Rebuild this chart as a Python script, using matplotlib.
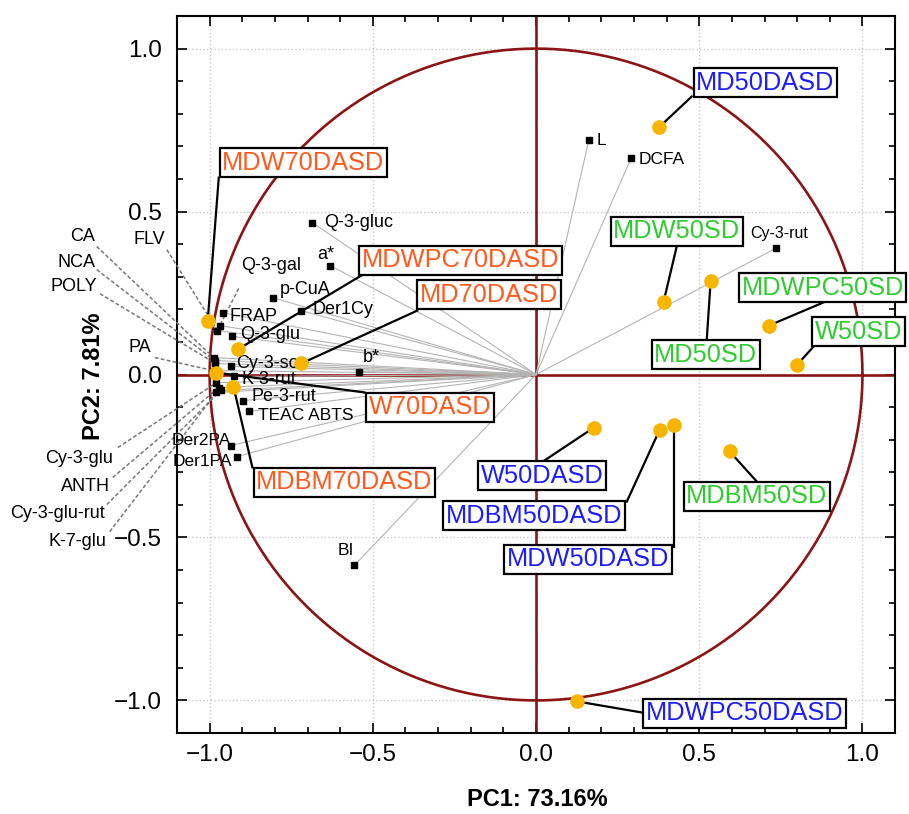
import matplotlib
matplotlib.use("Agg")
import matplotlib.pyplot as plt
import numpy as np
from matplotlib.ticker import MultipleLocator

plt.rcParams['font.family'] = ['Liberation Sans', 'DejaVu Sans']

# variable loadings (PC1, PC2)
var_names = ['FRAP', 'Q-3-gal', 'FLV', 'Q-3-glu', 'CA', 'NCA', 'POLY', 'PA',
             'Cy-3-so', 'K-3-rut', 'Cy-3-glu', 'ANTH', 'Cy-3-glu-rut', 'K-7-glu',
             'Pe-3-rut', 'TEAC ABTS', 'Der2PA', 'Der1PA', 'b*', 'BI', 'Q-3-gluc',
             'a*', 'p-CuA', 'Der1Cy', 'L', 'DCFA', 'Cy-3-rut']
var_pc1 = [-0.960, -0.969, -0.976, -0.930, -0.988, -0.985, -0.982, -0.988,
           -0.933, -0.924, -0.979, -0.972, -0.966, -0.979,
           -0.899, -0.878, -0.936, -0.917, -0.541, -0.557, -0.685,
           -0.630, -0.807, -0.719, 0.162, 0.291, 0.734]
var_pc2 = [0.190, 0.150, 0.135, 0.117, 0.052, 0.043, 0.034, 0.012,
           0.025, -0.006, -0.025, -0.040, -0.049, -0.055,
           -0.080, -0.113, -0.218, -0.252, 0.009, -0.586, 0.466,
           0.334, 0.236, 0.196, 0.721, 0.663, 0.387]

# sample scores (PC1, PC2)
obs_names = ['MDW70DASD', 'MDWPC70DASD', 'MD70DASD', 'W70DASD', 'MDBM70DASD',
             'MD50DASD', 'MDW50SD', 'MD50SD', 'MDWPC50SD', 'W50SD',
             'W50DASD', 'MDBM50DASD', 'MDW50DASD', 'MDBM50SD', 'MDWPC50DASD']
obs_pc1 = [-1.006, -0.914, -0.719, -0.980, -0.927,
           0.376, 0.391, 0.535, 0.713, 0.798,
           0.177, 0.379, 0.422, 0.593, 0.125]
obs_pc2 = [0.163, 0.077, 0.034, 0.006, -0.037,
           0.758, 0.224, 0.288, 0.150, 0.028,
           -0.163, -0.169, -0.156, -0.236, -1.003]
obs_group = ['70DASD'] * 5 + ['50DASD', '50SD', '50SD', '50SD', '50SD',
                              '50DASD', '50DASD', '50DASD', '50SD', '50DASD']

group_colors = {'70DASD': '#ff5a1e', '50DASD': '#1c1cff', '50SD': '#2ecc2e'}

# label placement: text position, alignment, font size
var_label_pos = {
    'Q-3-gluc': (-0.648, 0.466, 'left', 13), 'a*': (-0.645, 0.368, 'center', 13),
    'p-CuA': (-0.786, 0.261, 'left', 13), 'Der1Cy': (-0.685, 0.199, 'left', 13),
    'FRAP': (-0.939, 0.178, 'left', 13), 'Q-3-glu': (-0.908, 0.123, 'left', 13),
    'Cy-3-so': (-0.920, 0.034, 'left', 13), 'b*': (-0.505, 0.052, 'center', 13),
    'K-3-rut': (-0.902, -0.015, 'left', 13), 'Pe-3-rut': (-0.872, -0.067, 'left', 13),
    'TEAC ABTS': (-0.853, -0.126, 'left', 12.5), 'Der2PA': (-0.936, -0.202, 'right', 12.5),
    'Der1PA': (-0.930, -0.267, 'right', 12.5), 'BI': (-0.584, -0.540, 'center', 12.5),
    'L': (0.187, 0.718, 'left', 12.5), 'DCFA': (0.315, 0.660, 'left', 12.5),
    'Cy-3-rut': (0.746, 0.433, 'center', 11.5),
}
# labels joined to their point with a dashed leader: text pos, leader start
leader_label_pos = {
    'FLV': ((-1.135, 0.414), (-1.131, 0.383), 'right'),
    'CA': ((-1.352, 0.423), (-1.346, 0.393), 'right'),
    'NCA': ((-1.349, 0.345), (-1.346, 0.322), 'right'),
    'POLY': ((-1.346, 0.270), (-1.336, 0.248), 'right'),
    'Q-3-gal': ((-0.902, 0.334), (-0.911, 0.264), 'left'),
    'PA': ((-1.180, 0.083), (-1.168, 0.052), 'right'),
    'Cy-3-glu': ((-1.297, -0.258), (-1.281, -0.224), 'right'),
    'ANTH': ((-1.306, -0.344), (-1.297, -0.316), 'right'),
    'Cy-3-glu-rut': ((-1.321, -0.426), (-1.315, -0.399), 'right'),
    'K-7-glu': ((-1.315, -0.512), (-1.306, -0.482), 'right'),
}
# boxed sample labels: box centre, connector end
obs_label_pos = {
    'MDW70DASD': ((-0.713, 0.650), (-0.972, 0.604)),
    'MDWPC70DASD': ((-0.232, 0.350), (-0.535, 0.304)),
    'MD70DASD': ((-0.144, 0.245), (-0.364, 0.196)),
    'W70DASD': ((-0.324, -0.101), (-0.526, -0.055)),
    'MDBM70DASD': ((-0.587, -0.331), (-0.869, -0.285)),
    'MD50DASD': ((0.703, 0.896), (0.477, 0.853)),
    'MDW50SD': ((0.431, 0.439), (0.431, 0.393)),
    'MD50SD': ((0.520, 0.061), (0.523, 0.107)),
    'MDWPC50SD': ((0.878, 0.267), (0.887, 0.224)),
    'W50SD': ((0.988, 0.132), (0.856, 0.092)),
    'W50DASD': ((0.018, -0.310), (0.021, -0.267)),
    'MDBM50DASD': ((-0.006, -0.433), (0.278, -0.390)),
    'MDW50DASD': ((0.159, -0.567), (0.422, -0.528)),
    'MDBM50SD': ((0.676, -0.374), (0.676, -0.328)),
    'MDWPC50DASD': ((0.639, -1.040), (0.324, -1.037)),
}

fig = plt.figure(figsize=(9.09, 8.14), dpi=100)
ax = fig.add_axes([0.1947, 0.0995, 0.79, 0.8808])
ax.set_xlim(-1.1, 1.1)
ax.set_ylim(-1.1, 1.1)

ax.xaxis.set_major_locator(MultipleLocator(0.5))
ax.yaxis.set_major_locator(MultipleLocator(0.5))
ax.xaxis.set_minor_locator(MultipleLocator(0.1))
ax.yaxis.set_minor_locator(MultipleLocator(0.1))
ax.tick_params(which='both', direction='in', top=True, right=True,
               width=1.2, labelsize=17.5, colors='black')
ax.tick_params(which='major', length=7)
ax.tick_params(which='minor', length=4)
ax.tick_params(axis='y', pad=11)
ax.tick_params(axis='x', pad=8)
ax.set_xticks([-1.0, -0.5, 0.0, 0.5, 1.0])
ax.set_xticklabels(['\u22121.0', '\u22120.5', '0.0', '0.5', '1.0'])
ax.set_yticks([-1.0, -0.5, 0.0, 0.5, 1.0])
ax.set_yticklabels(['\u22121.0', '\u22120.5', '0.0', '0.5', '1.0'])
for sp in ax.spines.values():
    sp.set_linewidth(1.5)
ax.grid(True, which='major', color='#c8c8c8', ls=':', lw=1.0)

# unit circle and axes through origin
t = np.linspace(0, 2 * np.pi, 400)
ax.plot(np.cos(t), np.sin(t), color='#8b1414', lw=1.9, zorder=2)
ax.axhline(0, color='#8b1414', lw=1.9, zorder=2)
ax.axvline(0, color='#8b1414', lw=1.9, zorder=2)

# loading vectors
for x, y in zip(var_pc1, var_pc2):
    ax.plot([0, x], [0, y], color='#b4b4b4', lw=0.8, zorder=3)
ax.plot(var_pc1, var_pc2, 's', color='black', ms=5, mec='black', zorder=6)

for name, x, y in zip(var_names, var_pc1, var_pc2):
    if name in var_label_pos:
        tx, ty, ha, fs = var_label_pos[name]
        ax.text(tx, ty, name, ha=ha, va='center', fontsize=fs, zorder=7)
    else:
        (tx, ty), (lx, ly), ha = leader_label_pos[name]
        ax.plot([lx, x], [ly, y], color='#777777', ls=(0, (2.5, 1.5)), lw=1.1,
                clip_on=False, zorder=4)
        ax.text(tx, ty, name, ha=ha, va='center', fontsize=13, clip_on=False,
                zorder=7)

# sample scores with boxed labels
for name, x, y, grp in zip(obs_names, obs_pc1, obs_pc2, obs_group):
    (bx, by), (cx, cy) = obs_label_pos[name]
    ax.plot([x, cx], [y, cy], color='black', lw=1.6, zorder=8, clip_on=False)
    ax.text(bx, by, name, ha='center', va='center', fontsize=18.3,
            color=group_colors[grp], zorder=10, clip_on=False,
            bbox=dict(boxstyle='square,pad=0.1', fc='white', ec='black', lw=1.6))
ax.plot(obs_pc1, obs_pc2, 'o', color='#f7b500', ms=9.5, mec='#f7b500', zorder=9)

fig.text(537 / 909, 1 - 800 / 814, 'PC1: 73.16%', ha='center', va='center',
         fontsize=17, fontweight='bold')
fig.text(93 / 909, 1 - 376 / 814, 'PC2: 7.81%', ha='center', va='center',
         fontsize=17, fontweight='bold', rotation=90)

fig.savefig('out.png', dpi=100)
